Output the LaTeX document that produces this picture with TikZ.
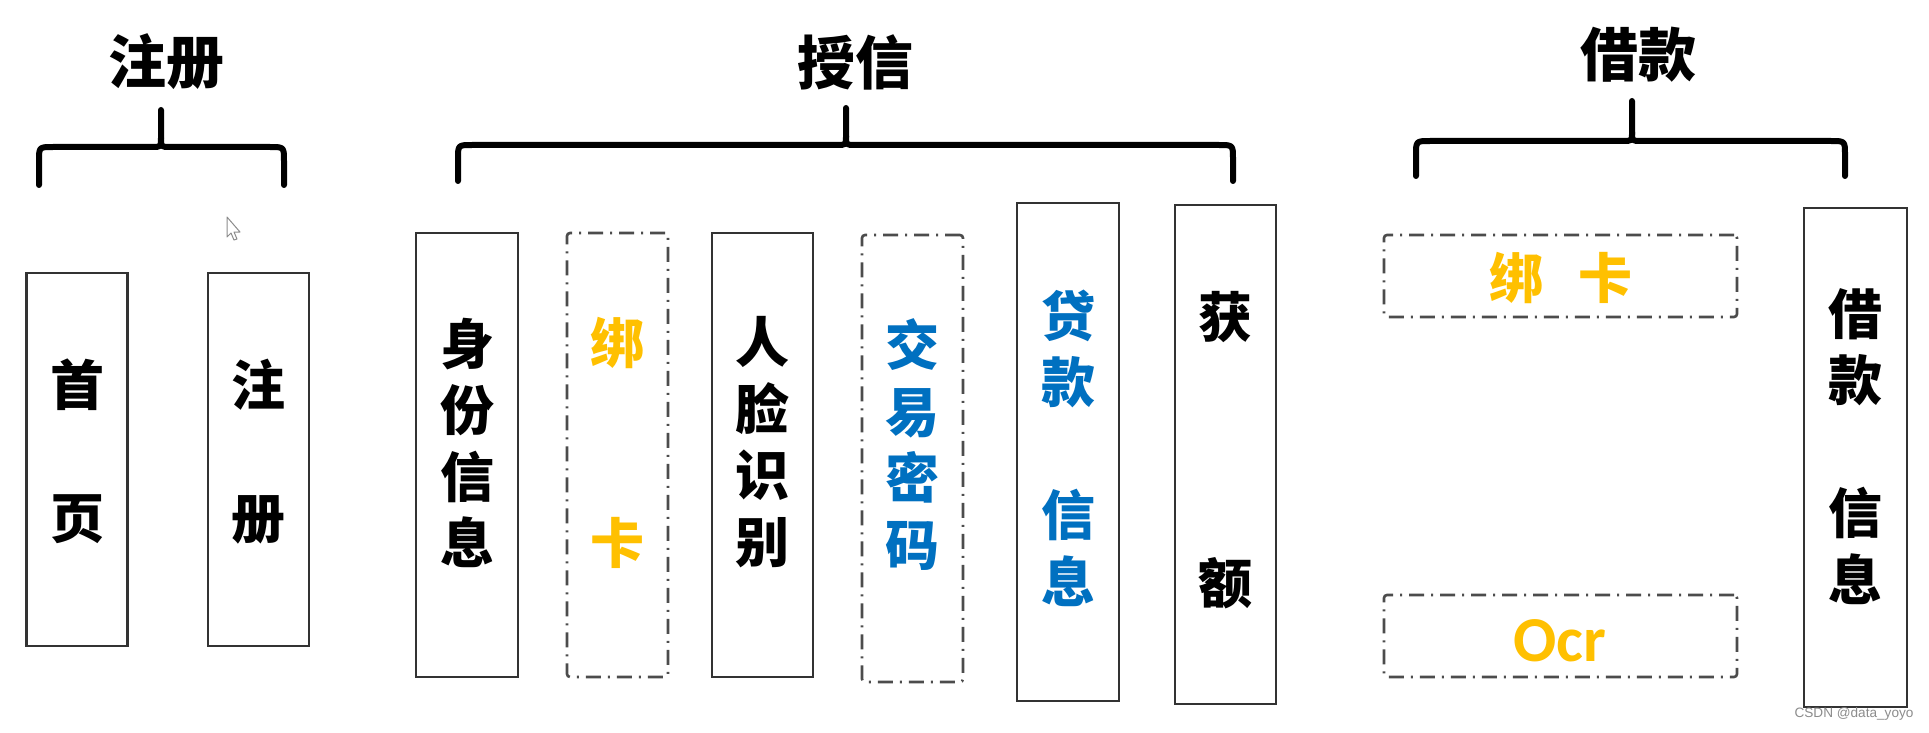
\documentclass[tikz,border=0pt]{standalone}
\usepackage{fontspec}
\usepackage{tikz}
\newfontfamily\cjk{Noto Sans CJK SC}
\newfontfamily\ocrfont{Carlito}
\newfontfamily\markfont{Liberation Sans}
\definecolor{cardgold}{HTML}{FFC000}
\definecolor{pwdblue}{HTML}{0070C0}
% left, right, centre, top of stem, bar, lower ends
\def\groupbrace(#1,#2,#3,#4,#5,#6){%
\draw[brace] (#1,#6) -- (#1,#5+14) .. controls (#1,#5) .. (#1+14,#5) -- (#3-9,#5) .. controls (#3,#5) .. (#3,#5-9) -- (#3,#4);
\draw[brace] (#2,#6) -- (#2,#5+14) .. controls (#2,#5) .. (#2-14,#5) -- (#3+9,#5) .. controls (#3,#5) .. (#3,#5-9);}

\begin{document}
\begin{tikzpicture}[x=0.5pt, y=-0.5pt,
	brace/.style={line width=3pt, line cap=round, line join=round},
	col/.style={draw=black!80, line width=1.4pt, minimum width=50.5pt, inner sep=0pt},
	dcol/.style={col, draw=black!70, line width=1.3pt, dash pattern=on 7.5pt off 3.5pt on 1pt off 3.5pt, rounded corners=1.5pt},
	word/.style={font=\cjk\bfseries\fontsize{27pt}{33.25pt}\selectfont, align=center, inner sep=0pt},
	head/.style={font=\cjk\bfseries\fontsize{29pt}{35pt}\selectfont, inner sep=0pt}]
			%%%%% START %%%%%
			
			\fill[white] (0,0) rectangle (1929,733);
			\useasboundingbox (0,0) rectangle (1929,733);
			
			% titles and braces
			\node[head] (reg) at (166,62) {注册};
			\node[head] (credit) at (855,62) {授信};
			\node[head] (loan) at (1638,55) {借款};
			
			\groupbrace(39,284,161,110,147,185)
			\groupbrace(458,1233,846,108,145,181)
			\groupbrace(1416,1845,1632,101,141,176)
			
			% mouse pointer
			\draw[black!45, fill=white, line width=0.5pt, line join=round] (227,217) -- (227,237) -- (231,233) -- (234,240) -- (237,239) -- (234,232) -- (240,232) -- cycle;
			
			% register
			\node[col, minimum height=186.5pt] (shouye) at (77,459.5) {};
			\node[col, minimum height=186.5pt] (zhuce) at (258.5,459.5) {};
			\node[word] (shouye-t) at (77,451.5) {首\\[33.25pt]页};
			\node[word] (zhuce-t) at (258.5,451.5) {注\\[33.25pt]册};
			
			% credit
			\node[col, minimum width=51pt, minimum height=222pt] (shenfen) at (467,455) {};
			\node[dcol, minimum height=222pt] (bangka) at (617.5,455) {};
			\node[col, minimum height=222pt] (renlian) at (762.5,455) {};
			\node[dcol, minimum height=223.5pt] (jiaoyi) at (912.5,458.5) {};
			\node[col, minimum width=51pt, minimum height=249pt] (daikuan) at (1068,452) {};
			\node[col, minimum height=249.5pt] (huoe) at (1225.5,454.5) {};
			
			\node[word] (shenfen-t) at (467,443) {身\\份\\信\\息};
			\node[word, text=cardgold] (bangka-t) at (617.5,443) {绑\\[66.5pt]卡};
			\node[word] (renlian-t) at (762.5,442) {人\\脸\\识\\别};
			\node[word, text=pwdblue] (jiaoyi-t) at (912.5,444.5) {交\\易\\密\\码};
			\node[word, text=pwdblue] (daikuan-t) at (1068,448) {贷\\款\\[33.25pt]信\\息};
			\node[word] (huoe-t) at (1225.5,450) {获\\[99.75pt]额};
			
			% loan
			\node[dcol, minimum width=176.5pt, minimum height=41pt] (bindcard) at (1560.5,276) {};
			\node[dcol, minimum width=176.5pt, minimum height=41pt] (ocr) at (1560.5,636) {};
			\node[col, minimum width=51.5pt, minimum height=249.5pt] (jiekuan) at (1855.5,457.5) {};
			
			\node[word, text=cardgold] (bindcard-t) at (1561,278) {绑\hspace{18pt}卡};
			\node[font=\ocrfont\bfseries\fontsize{32pt}{38pt}\selectfont, text=cardgold, inner sep=0pt] (ocr-t) at (1560,641) {Ocr};
			\node[word] (jiekuan-t) at (1855.5,446.5) {借\\款\\[33.25pt]信\\息};
			
			\node[font=\markfont\fontsize{6.8pt}{8pt}\selectfont, text=black!45, inner sep=0pt] (mark) at (1854,714) {CSDN @data\_yoyo};
			
			%%%%% END %%%%%
\end{tikzpicture}
\end{document}
